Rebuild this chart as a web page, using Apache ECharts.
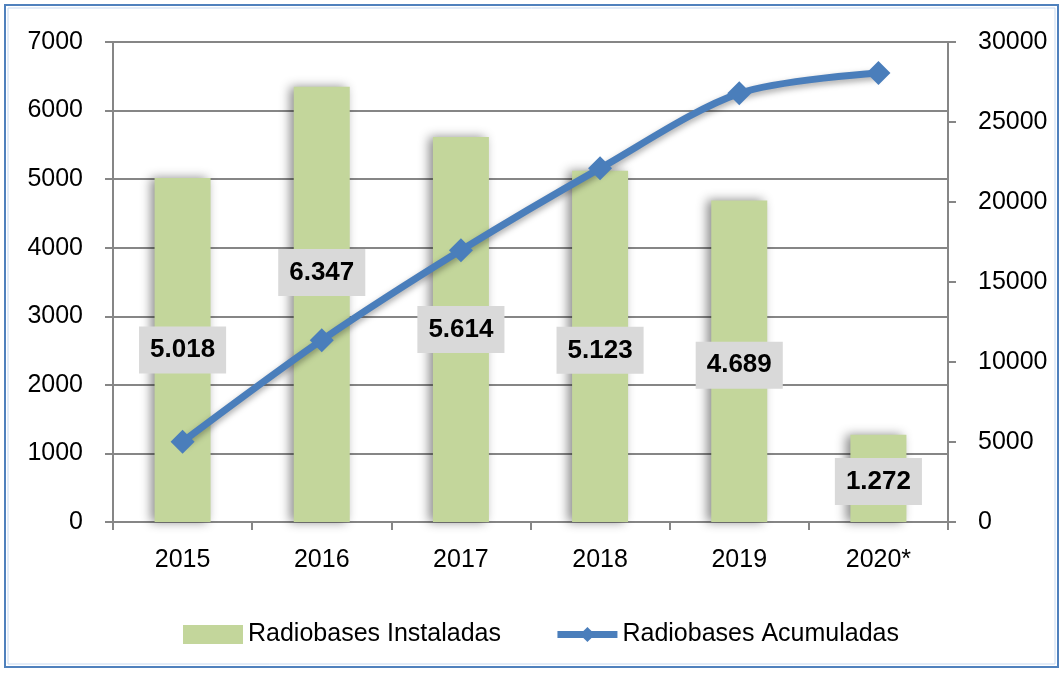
<!DOCTYPE html>
<html>
<head>
<meta charset="utf-8">
<script src="https://cdn.jsdelivr.net/npm/echarts@6/dist/echarts.min.js"></script>
<style>
html,body{margin:0;padding:0;background:#fff;}
#chart{width:1063px;height:673px;}
</style>
</head>
<body>
<div id="chart"></div>
<script>
const categories = ['2015', '2016', '2017', '2018', '2019', '2020*'];
const installed = [5018, 6347, 5614, 5123, 4689, 1272];
const accumulated = [5018, 11365, 16979, 22102, 26791, 28063];
const seriesNames = ['Radiobases Instaladas', 'Radiobases Acumuladas'];
const leftTicks = { min: 0, max: 7000, interval: 1000 };
const rightTicks = { min: 0, max: 30000, interval: 5000 };

// label vertical nudges (styling, not data)
const labelOffsetY = [0, -32, 0, 4, 4, 3];

const fmt = v => String(v).replace(/\B(?=(\d{3})+(?!\d))/g, '.');
const FONT = '"Liberation Sans", Arial, sans-serif';
const grey = '#868686';

const chart = echarts.init(document.getElementById('chart'), null, { renderer: 'canvas' });
chart.setOption({
  animation: false,
  backgroundColor: '#ffffff',
  textStyle: { fontFamily: FONT },
  graphic: [
    { type: 'rect', shape: { x: 5, y: 5, width: 1053, height: 662 }, style: { fill: 'none', stroke: '#4f81bd', lineWidth: 2 }, silent: true },
    { type: 'rect', shape: { x: 8, y: 8, width: 1047, height: 656 }, style: { fill: 'none', stroke: '#c6d9f1', lineWidth: 1 }, silent: true }
  ],
  grid: { left: 113, right: 115, top: 42, bottom: 151 },
  legend: {
    data: [
      { name: seriesNames[0], icon: 'rect' },
      { name: seriesNames[1] }
    ],
    left: 178,
    top: 617,
    itemWidth: 60,
    itemHeight: 19,
    itemGap: 53,
    lineStyle: { width: 7 },
    textStyle: { fontFamily: FONT, fontSize: 25, color: '#000' }
  },
  xAxis: {
    type: 'category',
    data: categories,
    boundaryGap: true,
    axisLine: { lineStyle: { color: grey, width: 2 } },
    axisTick: { show: true, length: 8, lineStyle: { color: grey, width: 2 } },
    axisLabel: { fontFamily: FONT, fontSize: 25, color: '#000', margin: 26 }
  },
  yAxis: [
    {
      type: 'value',
      min: leftTicks.min, max: leftTicks.max, interval: leftTicks.interval,
      axisLine: { show: true, lineStyle: { color: grey, width: 2 } },
      axisTick: { show: true, length: 8, lineStyle: { color: grey, width: 2 } },
      splitLine: { show: true, lineStyle: { color: grey, width: 2 } },
      axisLabel: { fontFamily: FONT, fontSize: 25, color: '#000', margin: 30, formatter: v => String(v) }
    },
    {
      type: 'value',
      position: 'right',
      min: rightTicks.min, max: rightTicks.max, interval: rightTicks.interval,
      axisLine: { show: true, lineStyle: { color: grey, width: 2 } },
      axisTick: { show: true, length: 8, lineStyle: { color: grey, width: 2 } },
      splitLine: { show: false },
      axisLabel: { fontFamily: FONT, fontSize: 25, color: '#000', margin: 30, formatter: v => String(v) }
    }
  ],
  series: [
    {
      name: seriesNames[0],
      type: 'bar',
      yAxisIndex: 0,
      barWidth: 56,
      z: 2,
      itemStyle: {
        color: '#c3d69b',
        shadowColor: 'rgba(0,0,0,0.45)',
        shadowBlur: 10,
        shadowOffsetX: -4,
        shadowOffsetY: 0
      },
      data: installed,
      label: {
        show: true,
        position: 'inside',
        formatter: p => fmt(p.value),
        fontFamily: FONT,
        fontSize: 26,
        fontWeight: 'bold',
        color: '#000',
        backgroundColor: '#d9d9d9',
        padding: [9, 11],
        lineHeight: 29
      },
      labelLayout: p => ({ dy: labelOffsetY[p.dataIndex] || 0 })
    },
    {
      name: seriesNames[1],
      type: 'line',
      yAxisIndex: 1,
      smooth: 0.3,
      z: 5,
      symbol: 'diamond',
      symbolSize: 24,
      itemStyle: { color: '#4a7ebb' },
      lineStyle: {
        color: '#4a7ebb',
        width: 7,
        shadowColor: 'rgba(0,0,0,0.35)',
        shadowBlur: 6,
        shadowOffsetY: 3
      },
      data: accumulated
    }
  ]
});
</script>
</body>
</html>
